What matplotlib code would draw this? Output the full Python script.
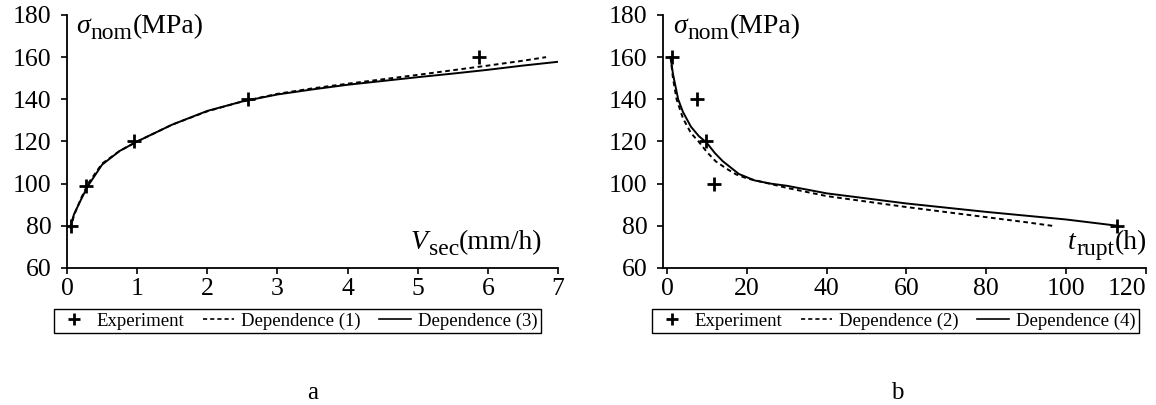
import matplotlib
matplotlib.use('Agg')
import matplotlib.pyplot as plt
from matplotlib.lines import Line2D

# Fuente tipo Times para todo el grafico
plt.rcParams['font.family'] = ['Liberation Serif', 'DejaVu Serif']

# Datos del panel a (velocidad secundaria)
v_exp = [0.06, 0.27, 0.96, 2.58, 5.88]
s_exp_a = [80, 99, 120, 140, 160]

v_dep1 = [0.05, 0.1, 0.2, 0.3, 0.5, 0.75, 1, 1.5, 2, 2.5, 3, 3.5, 4, 4.5, 5, 5.5, 6, 6.5, 6.83]
s_dep1 = [78.5, 85, 93, 100, 109.5, 115.5, 120, 128, 134.3, 139, 142.6, 145.2, 147.4,
          149.5, 151.6, 153.8, 156, 158.3, 160]

v_dep3 = [0.05, 0.1, 0.2, 0.3, 0.5, 0.75, 1, 1.5, 2, 2.5, 3, 3.5, 4, 4.5, 5, 5.5, 6, 6.5, 7]
s_dep3 = [80, 85.5, 92.5, 99, 109, 115.5, 120, 128, 134.5, 139, 142.3, 144.7, 146.9,
          148.7, 150.5, 152.2, 154, 156, 157.8]

# Datos del panel b (tiempo de rotura)
t_exp = [1.2, 7.5, 9.8, 11.8, 112.8]
s_exp_b = [160, 140, 120, 100, 80]

t_dep2 = [0.9, 1.5, 2.4, 4, 6, 7.9, 10, 12.2, 15, 17.3, 20, 25, 30, 40, 50, 60, 70, 80, 90, 96.5]
s_dep2 = [160, 150, 140, 131, 124, 120, 115, 110.6, 107, 104.4, 102.5, 100.3, 98, 94.1,
          91.5, 88.9, 86.5, 84.1, 81.7, 80]

t_dep4 = [0.9, 1.5, 2.8, 4, 6, 8, 9.9, 12, 14, 18, 22, 26, 30, 40, 50, 60, 70, 80, 90, 100, 113]
s_dep4 = [160, 152, 140, 134, 127, 122.5, 119.5, 114.5, 110.6, 104.6, 101.5, 100, 99, 95.4,
          93, 90.6, 88.6, 86.6, 84.8, 83, 80]

y_ticks = [60, 80, 100, 120, 140, 160, 180]

W, H = 1156, 405
fig = plt.figure(figsize=(W / 100, H / 100), dpi=100)
ax1 = fig.add_axes([0.05796, 0.3383, 0.42474, 0.6247])
ax2 = fig.add_axes([0.57353, 0.3383, 0.41782, 0.6247])
renderer = fig.canvas.get_renderer()

dash = (2.4, 1.8)


def estilo(ax):
    for lado in ['top', 'right']:
        ax.spines[lado].set_visible(False)
    for lado in ['left', 'bottom']:
        ax.spines[lado].set_linewidth(1.3)
    ax.set_ylim(60, 180)
    ax.set_yticks(y_ticks)
    ax.tick_params(axis='y', direction='out', length=4, width=1.2, pad=7, labelsize=18.5)
    ax.tick_params(axis='x', direction='out', length=4, width=1.2, pad=3, labelsize=18.5)


# Etiqueta con subindice grande, compuesta por partes (x, y en pixeles)
def etiqueta(x, y, simbolo, sub, resto):
    partes = [(simbolo, 20, 'italic', 0), (sub, 17, 'normal', 6), (resto, 20, 'normal', 0)]
    for texto, size, estilo_f, dy in partes:
        t = fig.text(x / W, 1 - (y + dy) / H, texto, fontsize=size, style=estilo_f,
                     ha='left', va='baseline')
        x = t.get_window_extent(renderer).x1 + 0.5


# Panel a
ax1.plot(v_dep3, s_dep3, color='black', lw=1.4)
ax1.plot(v_dep1, s_dep1, color='black', lw=1.4, dashes=dash)
ax1.plot(v_exp, s_exp_a, linestyle='none', marker='+', color='black', ms=10, mew=2)
estilo(ax1)
ax1.set_xlim(0, 7)
ax1.set_xticks(range(0, 8))

# Panel b
ax2.plot(t_dep4, s_dep4, color='black', lw=1.4)
ax2.plot(t_dep2, s_dep2, color='black', lw=1.4, dashes=dash)
ax2.plot(t_exp, s_exp_b, linestyle='none', marker='+', color='black', ms=10, mew=2)
estilo(ax2)
ax2.set_xlim(-1, 120)
ax2.set_xticks(range(0, 121, 20))
ax2.get_xticklabels()[-1].set_ha('right')

etiqueta(76, 33, '\u03c3', 'nom', '(MPa)')
etiqueta(673, 33, '\u03c3', 'nom', '(MPa)')
etiqueta(411, 249, 'V', 'sec', '(mm/h)')
etiqueta(1068, 249, 't', 'rupt', '(h)')


# Leyendas debajo de cada panel
def leyenda(cx, nombres):
    h = [Line2D([], [], linestyle='none', marker='+', color='black', ms=8, mew=2),
         Line2D([], [], color='black', lw=1.2, dashes=(2.5, 1.8)),
         Line2D([], [], color='black', lw=1.2)]
    lg = fig.legend(h, nombres, loc='center', bbox_to_anchor=(cx, 1 - 321 / H),
                    ncol=3, fontsize=13.5, frameon=True, fancybox=False,
                    edgecolor='black', framealpha=1, borderpad=0.2,
                    handlelength=1.7, handletextpad=0.35, columnspacing=1.0)
    lg.get_frame().set_linewidth(1.0)


leyenda(297.5 / W, ['Experiment', 'Dependence (1)', 'Dependence (3)'])
leyenda(895.5 / W, ['Experiment', 'Dependence (2)', 'Dependence (4)'])

fig.text(313 / W, 1 - 393 / H, 'a', ha='center', va='center', fontsize=18)
fig.text(897 / W, 1 - 393 / H, 'b', ha='center', va='center', fontsize=18)

fig.savefig('out.png', dpi=100)
